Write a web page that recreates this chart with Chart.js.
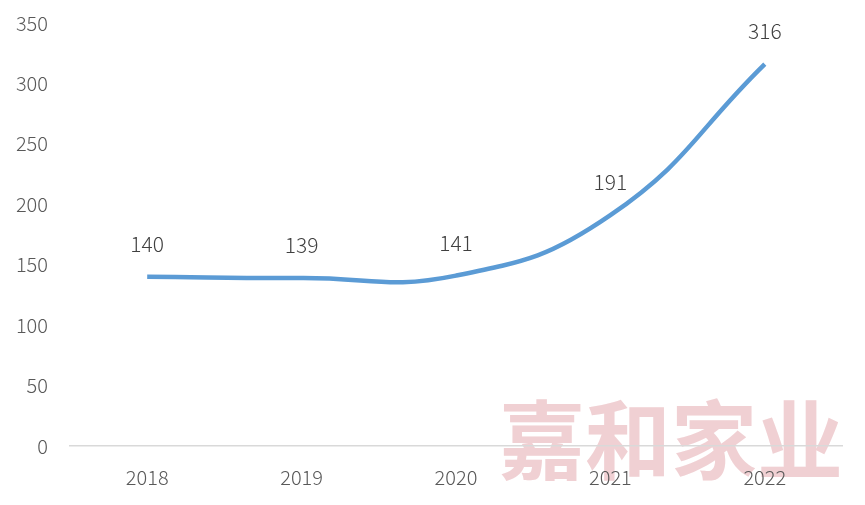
<!DOCTYPE html>
<html>
<head>
<meta charset="utf-8">
<script src="https://cdn.jsdelivr.net/npm/chart.js@4"></script>
<style>
  html, body { margin: 0; padding: 0; background: #fff; }
  #wrap { position: relative; width: 865px; height: 505px; }
  #mark {
    position: absolute; left: 499px; top: 393px;
    font-family: "Noto Sans CJK SC", sans-serif; font-weight: 700;
    font-size: 86px; line-height: 1; letter-spacing: 0px;
    color: #f0d0d3; z-index: 0; white-space: nowrap;
  }
  canvas { position: absolute; left: 0; top: 0; z-index: 1; }
</style>
</head>
<body>
<div id="wrap">
  <div id="mark">嘉和家业</div>
  <canvas id="chart" width="865" height="505"></canvas>
</div>
<script>
// data
const years = ['2018', '2019', '2020', '2021', '2022'];
const values = [140, 139, 141, 191, 316];
const yTicks = [0, 50, 100, 150, 200, 250, 300, 350];

const textColor = '#595959';
const fontFamily = '"Noto Sans CJK SC", "Noto Sans", sans-serif';

// draws the value above each point
const valueLabels = {
  id: 'valueLabels',
  afterDatasetsDraw(chart) {
    const ctx = chart.ctx;
    const meta = chart.getDatasetMeta(0);
    ctx.save();
    ctx.fillStyle = '#404040';
    ctx.font = '300 21px ' + fontFamily;
    ctx.textAlign = 'center';
    ctx.textBaseline = 'middle';
    meta.data.forEach((pt, i) => {
      ctx.fillText(String(values[i]), pt.x, pt.y - 33);
    });
    ctx.restore();
  }
};

new Chart(document.getElementById('chart'), {
  type: 'line',
  data: {
    labels: years,
    datasets: [{
      data: values,
      borderColor: '#5b9bd5',
      borderWidth: 4.5,
      tension: 0.45,
      pointRadius: 0,
      fill: false
    }]
  },
  options: {
    responsive: false,
    animation: false,
    layout: { padding: { top: 23, right: 23, bottom: 0, left: 0 } },
    plugins: { legend: { display: false }, tooltip: { enabled: false } },
    scales: {
      x: {
        offset: true,
        grid: { display: false, drawTicks: false },
        border: { display: true, color: '#d9d9d9', width: 1.5 },
        ticks: { color: textColor, font: { family: fontFamily, size: 20, weight: '300' }, padding: 19, maxRotation: 0 },
        afterFit(scale) { scale.height = 59; }
      },
      y: {
        min: 0,
        max: 350,
        afterBuildTicks(scale) { scale.ticks = yTicks.map(v => ({ value: v })); },
        grid: { display: false, drawTicks: false },
        border: { display: false },
        ticks: { color: textColor, font: { family: fontFamily, size: 20, weight: '300' }, padding: 22 },
        afterFit(scale) {
          scale.width = 70;
          scale.paddingTop = 0;
          scale.paddingBottom = 0;
        }
      }
    }
  },
  plugins: [valueLabels]
});
</script>
</body>
</html>
